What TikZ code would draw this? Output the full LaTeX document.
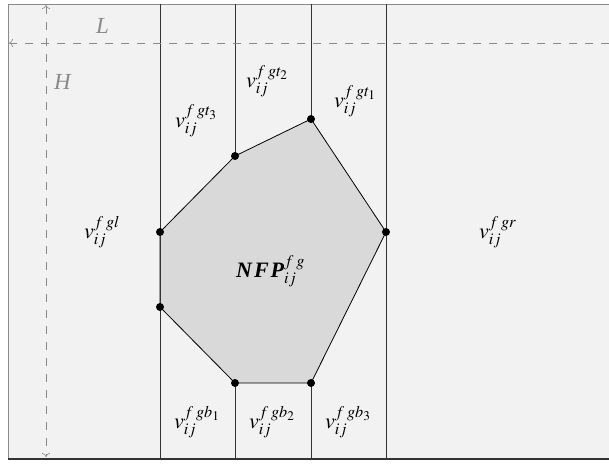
\documentclass[tikz,border=0pt]{standalone}
\usepackage{mathptmx}
\usepackage{fontspec}
\setmainfont{Liberation Serif}
\usetikzlibrary{arrows.meta}
\definecolor{bgc}{HTML}{F2F2F2}
\definecolor{polyc}{HTML}{D9D9D9}
\definecolor{dashc}{HTML}{8A8A8A}
\definecolor{linec}{HTML}{333333}
\newcommand{\sep}{\mkern3mu}
\tikzset{
  vdot/.style={circle,fill=black,inner sep=0pt,minimum size=8pt},
  lab/.style={font=\fontsize{22}{26}\selectfont, inner sep=0pt, anchor=base west},
  dimlab/.style={font=\fontsize{23}{26}\selectfont\itshape, text=dashc, inner sep=0pt, anchor=base west},
  guide/.style={dashc, line width=0.6pt, dash pattern=on 8pt off 8pt},
  vline/.style={linec, line width=0.8pt},
  tip/.style={-{To[length=4pt,width=8pt]}}
}
\begin{document}
\begin{tikzpicture}[x=1pt,y=-1pt]
\useasboundingbox (0,0) rectangle (609,463);
\fill[bgc] (8,4) rectangle (609,459);
\coordinate (c0) at (8,459);
\coordinate (c1) at (8,4);
\coordinate (c2) at (609,4);
\coordinate (c3) at (609,459);
\draw[dashc, line width=0.8pt] (c0) -- (c1) -- (c2);
\draw[linec, line width=1.2pt] (c0) -- (c3);
% polygon vertices
\coordinate (p1) at (311,119);
\coordinate (p2) at (386,232);
\coordinate (p3) at (311,383);
\coordinate (p4) at (235,383);
\coordinate (p5) at (160,307);
\coordinate (p6) at (160,232);
\coordinate (p7) at (235,156);
\filldraw[fill=polyc, draw=black, line width=0.8pt] (p1) -- (p2) -- (p3) -- (p4) -- (p5) -- (p6) -- (p7) -- cycle;
% vertical lines
\coordinate (t1) at (160,4);  \coordinate (b1) at (160,459);
\coordinate (t2) at (235,4);  \coordinate (b2) at (235,459);
\coordinate (t3) at (311,4);  \coordinate (b3) at (311,459);
\coordinate (t4) at (386,4);  \coordinate (b4) at (386,459);
\draw[vline] (t1) -- (b1);
\draw[vline] (t2) -- (p7);
\draw[vline] (p4) -- (b2);
\draw[vline] (t3) -- (p1);
\draw[vline] (p3) -- (b3);
\draw[vline] (t4) -- (b4);
% dots
\foreach \p in {p1,p2,p3,p4,p5,p6,p7} \node[vdot] (d\p) at (\p) {};
% guides
\coordinate (hr) at (609,43);
\coordinate (hl) at (9,43);
\coordinate (vt) at (46,5);
\coordinate (vb) at (46,457);
\draw[guide, tip] (hr) -- (hl);
\draw[guide, {To[length=4pt,width=8pt]}-{To[length=4pt,width=8pt]}] (vt) -- (vb);
\node[dimlab] (L) at (96,33) {L};
\node[dimlab] (H) at (54,89) {H};
% labels
\node[lab] (vt2) at (246,87) {$v_{ij}^{f\sep g t_2}$};
\node[lab] (vt1) at (334,107) {$v_{ij}^{f\sep g t_1}$};
\node[lab] (vt3) at (175,127) {$v_{ij}^{f\sep g t_3}$};
\node[lab] (vl) at (84,238) {$v_{ij}^{f\sep g l}$};
\node[lab] (vr) at (479,238) {$v_{ij}^{f\sep g r}$};
\node[lab] (nfp) at (236,277) {{\bfseries\itshape N\kern2pt F\kern2pt P}$_{ij}^{f\sep g}$};
\node[lab] (vb1) at (174,428) {$v_{ij}^{f\sep g b_1}$};
\node[lab] (vb2) at (249,428) {$v_{ij}^{f\sep g b_2}$};
\node[lab] (vb3) at (325,428) {$v_{ij}^{f\sep g b_3}$};
\end{tikzpicture}
\end{document}
